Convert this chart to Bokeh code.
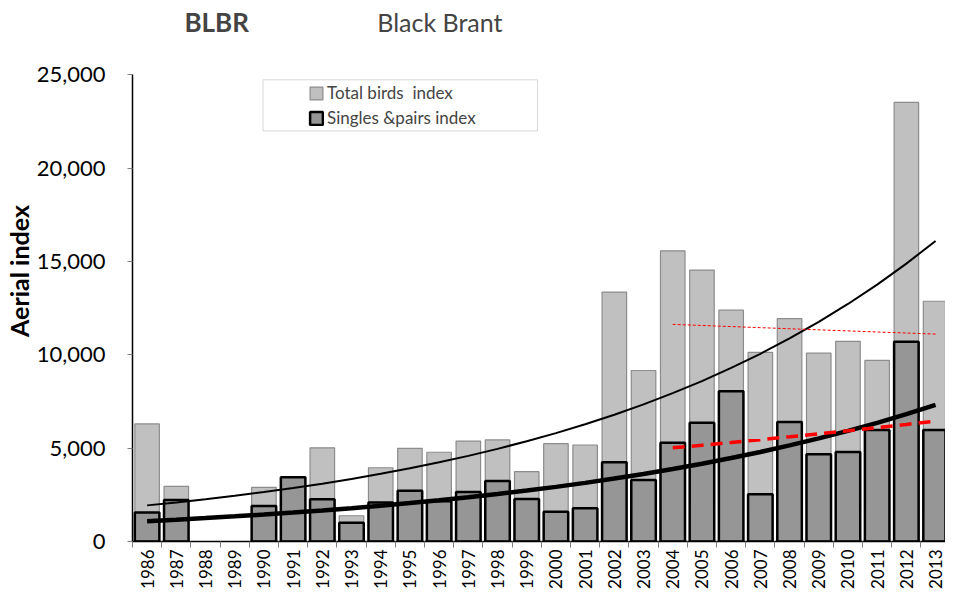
import math
from bokeh.plotting import figure
from bokeh.models import (ColumnDataSource, Range1d, FixedTicker, NumeralTickFormatter,
                          Legend, LegendItem, BoxAnnotation, Label)
from bokeh.embed import file_html
from bokeh.resources import INLINE

# ---- data ----
years = [1986, 1987, 1988, 1989, 1990, 1991, 1992, 1993, 1994, 1995, 1996, 1997, 1998, 1999,
         2000, 2001, 2002, 2003, 2004, 2005, 2006, 2007, 2008, 2009, 2010, 2011, 2012, 2013]
total_birds = [6300, 2950, None, None, 2900, 3400, 5020, 1380, 3950, 4990, 4780, 5380, 5440, 3740,
               5240, 5170, 13360, 9160, 15570, 14540, 12390, 10130, 11940, 10090, 10720, 9700, 23520, 12870]
singles_pairs = [1560, 2220, None, None, 1900, 3440, 2260, 1000, 2090, 2720, 2150, 2650, 3240, 2280,
                 1600, 1780, 4250, 3300, 5290, 6360, 8050, 2530, 6400, 4680, 4790, 5970, 10700, 5970]
# trend lines
trend_total = [1935, 2093, 2264, 2449, 2648, 2865, 3098, 3351, 3625, 3921, 4241, 4587, 4962, 5367,
               5805, 6279, 6791, 7346, 7945, 8594, 9296, 10054, 10875, 11763, 12723, 13762, 14885, 16100]
trend_singles = [1090, 1170, 1255, 1347, 1445, 1551, 1664, 1786, 1917, 2057, 2207, 2368, 2541, 2727,
                 2926, 3140, 3370, 3616, 3881, 4164, 4469, 4795, 5146, 5522, 5925, 6358, 6823, 7322]
recent_years = [2004, 2005, 2006, 2007, 2008, 2009, 2010, 2011, 2012, 2013]
trend_singles_recent = [5016, 5158, 5304, 5454, 5609, 5768, 5931, 6099, 6272, 6450]
trend_total_recent = [11630, 11571, 11512, 11454, 11396, 11338, 11280, 11223, 11166, 11110]
y_ticks = [0, 5000, 10000, 15000, 20000, 25000]

FONT = "Lato"

def clean(xs, ys):
    pts = [(x, y) for x, y in zip(xs, ys) if y is not None]
    return [q[0] for q in pts], [q[1] for q in pts]

tx, ty = clean(years, total_birds)
sx, sy = clean(years, singles_pairs)

Y_TOP = 28978
p = figure(width=945, height=593, output_backend="svg", toolbar_location=None,
           x_range=Range1d(years[0] - 0.5, 2013.34), y_range=Range1d(0, Y_TOP),
           min_border_left=124, min_border_right=0, min_border_top=0, min_border_bottom=52)
p.outline_line_color = None
p.xgrid.visible = False
p.ygrid.visible = False

src_t = ColumnDataSource(dict(x=tx, top=ty))
src_s = ColumnDataSource(dict(x=sx, top=sy))
rt = p.vbar(x="x", top="top", width=0.84, source=src_t, fill_color="#c0c0c0",
            line_color="#8c8c8c", line_width=1.2)
rs = p.vbar(x="x", top="top", width=0.84, source=src_s, fill_color="#969696",
            line_color="#000000", line_width=2.5)

p.line(years, trend_total, line_color="black", line_width=2)
p.line(years, trend_singles, line_color="black", line_width=4.5)
p.line(recent_years, trend_singles_recent, line_color="#ff0000", line_width=3.5, line_dash="12 7")
p.line(recent_years, trend_total_recent, line_color="#ff0000", line_width=1, line_dash="3 2")

# axes
xa = p.xaxis[0]
xa.ticker = FixedTicker(ticks=years, minor_ticks=[y - 0.5 for y in years])
xa.major_tick_out = 0
xa.major_tick_in = 0
xa.minor_tick_out = 6
xa.minor_tick_in = 0
xa.minor_tick_line_color = "#808080"
xa.axis_line_color = "black"
xa.axis_line_width = 1.5
xa.major_label_orientation = math.pi / 2
xa.major_label_text_font = FONT
xa.major_label_text_font_size = "17px"
xa.major_label_text_color = "black"
xa.major_label_standoff = 2

ya = p.yaxis[0]
ya.bounds = (0, 25000)
ya.ticker = FixedTicker(ticks=y_ticks)
ya.formatter = NumeralTickFormatter(format="0,0")
ya.major_tick_out = 5
ya.major_tick_in = 0
ya.minor_tick_out = 0
ya.minor_tick_in = 0
ya.major_tick_line_color = "#808080"
ya.axis_line_color = "black"
ya.axis_line_width = 1.5
ya.major_label_text_font = FONT
ya.major_label_text_font_size = "22px"
ya.major_label_text_color = "black"
ya.major_label_standoff = 22
ya.axis_label = "Aerial index"
ya.axis_label_text_font = FONT
ya.axis_label_text_font_style = "bold"
ya.axis_label_text_font_size = "25px"
ya.axis_label_text_color = "black"
ya.axis_label_standoff = 0

# legend frame
p.add_layout(BoxAnnotation(left=1989.97, right=1999.37, bottom=21990, top=24730,
                           fill_alpha=0, line_color="#7f7f7f", line_width=1))
legend = Legend(items=[LegendItem(label="Total birds  index", renderers=[rt]),
                       LegendItem(label="Singles &pairs index", renderers=[rs])],
                location=(176, 413), padding=0, margin=0, spacing=4,
                glyph_width=16, glyph_height=16, label_standoff=3, label_height=20,
                label_text_font=FONT, label_text_font_size="17px",
                border_line_color=None, background_fill_alpha=0)
p.add_layout(legend)

# titles
p.add_layout(Label(x=1987.28, y=27849, text="BLBR", text_font=FONT, text_font_style="bold",
                   text_font_size="26px", text_baseline="middle", text_align="left"))
p.add_layout(Label(x=1993.88, y=27849, text="Black Brant", text_font=FONT,
                   text_font_size="25px", text_baseline="middle", text_align="left"))

open("out.html", "w").write(file_html(p, INLINE))
